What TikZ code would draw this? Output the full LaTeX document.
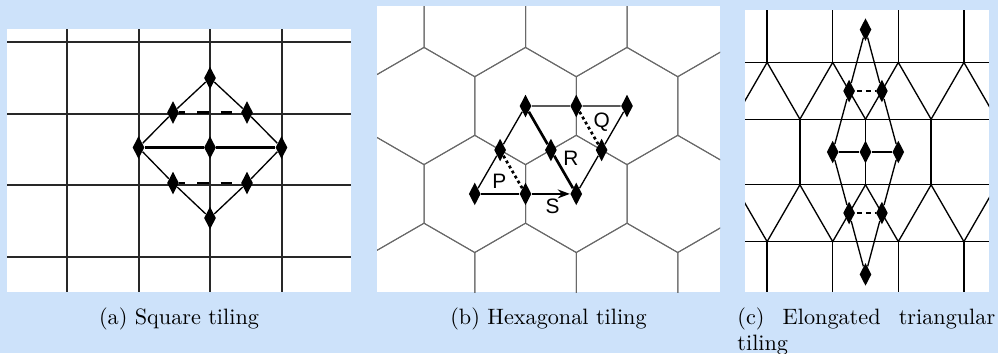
\documentclass[tikz,border=0pt]{standalone}
\usepackage{fontspec}
\usepackage{tikz}
\usetikzlibrary{shapes.geometric, arrows.meta}
\newfontfamily\labelfont{Liberation Sans}
\definecolor{bgblue}{RGB}{205, 226, 250}
\definecolor{gridgray}{RGB}{40, 40, 40}
\definecolor{hexgray}{RGB}{105, 105, 105}
\tikzset{
    panel/.style={fill=white},
    sqtile/.style={draw=gridgray, line width=0.9pt},
    hextile/.style={draw=hexgray, line width=0.45pt},
    tritile/.style={draw=black, line width=0.6pt},
    marker/.style={diamond, fill=black, inner sep=0pt, minimum width=5.4pt, minimum height=10.3pt},
    edge/.style={draw=black, line width=0.6pt},
    boldedge/.style={draw=black, line width=1.2pt},
    dashedge/.style={boldedge, dash pattern=on 5pt off 5.4pt, dash phase=2.3pt},
    shortdash/.style={boldedge, dash pattern=on 2.2pt off 1.8pt, dash phase=-0.6pt},
    dotedge/.style={boldedge, dash pattern=on 1.3pt off 1.3pt},
    letter/.style={font=\labelfont\fontsize{9.4}{11}\selectfont, inner sep=0pt},
    subcap/.style={inner sep=0pt, font={\normalsize\tolerance=10000\hyphenpenalty=10000}}
}

\begin{document}
\begin{tikzpicture}[x=0.45pt, y=-0.45pt]

% Background
\useasboundingbox (0,0) rectangle (998,353);
\fill[bgblue] (0,0) rectangle (998,353);

% (a) square tiling
\fill[panel] (7,29) rectangle (351,292);
\begin{scope}
    \clip (7,29) rectangle (351,292);
    \foreach \gx in {67,138.5,210,281.5} \draw[sqtile] (\gx,29) -- (\gx,292);
    \foreach \gy in {42,113.5,185,256.5} \draw[sqtile] (7,\gy) -- (351,\gy);
\end{scope}

\node[marker] (sqtop) at (210,78) {};
\node[marker] (squl) at (173,112.5) {};
\node[marker] (squr) at (247,112.5) {};
\node[marker] (sqml) at (138.5,147.5) {};
\node[marker] (sqc) at (210,147.5) {};
\node[marker] (sqmr) at (281.5,147.5) {};
\node[marker] (sqll) at (173,183) {};
\node[marker] (sqlr) at (247,183) {};
\node[marker] (sqbot) at (210,218) {};

\draw[edge] (sqtop) -- (squl) -- (sqml) -- (sqll) -- (sqbot) -- (sqlr) -- (sqmr) -- (squr) -- (sqtop);
\draw[boldedge] (sqml) -- (sqc) -- (sqmr);
\draw[dashedge] (squl) -- (squr);
\draw[dashedge] (sqll) -- (sqlr);

% (b) hexagonal tiling
\fill[panel] (377,6) rectangle (720,292);
\begin{scope}
    \clip (377,6) rectangle (720,292);
    \foreach \j in {0,...,3}
        \foreach \k in {-1,...,3} {
            \pgfmathsetmacro\cx{424+101.5*\k+50.75*mod(\j+1,2)}
            \pgfmathsetmacro\cy{18.1+87.9*\j}
            \draw[hextile] (\cx,\cy) ++(30:58.6) -- ++(150:58.6) -- ++(210:58.6)
                -- ++(270:58.6) -- ++(330:58.6) -- ++(30:58.6) -- cycle;
        }
\end{scope}

\node[marker] (hxa) at (474.75,193.9) {};
\node[marker] (hxb) at (525.5,106) {};
\node[marker] (hxc) at (627,106) {};
\node[marker] (hxd) at (576.25,193.9) {};
\node[marker] (hxab) at (500.1,150) {};
\node[marker] (hxbc) at (576.25,106) {};
\node[marker] (hxbd) at (550.9,150) {};
\node[marker] (hxcd) at (601.6,150) {};
\node[marker] (hxad) at (525.5,193.9) {};

\draw[edge] (hxa) -- (hxab) -- (hxb) -- (hxbc) -- (hxc) -- (hxcd) -- (hxd);
\draw[boldedge] (hxb) -- (hxbd) -- (hxd);
\draw[boldedge, -{Stealth[length=5.4pt, width=4pt]}] (hxa) -- (hxad) -- (hxd);
\draw[dotedge] (hxab) -- (hxad);
\draw[dotedge] (hxbc) -- (hxcd);

\node[letter] (lblp) at (499.3,181.7) {P};
\node[letter] (lblq) at (601.7,121.7) {Q};
\node[letter] (lblr) at (571,158.3) {R};
\node[letter] (lbls) at (552.7,206.7) {S};

% (c) elongated triangular tiling
\fill[panel] (745,10) rectangle (989,292);
\begin{scope}
    \clip (745,10) rectangle (989,292);
    \foreach \ty in {62.4,119.2,184.8,241.6} \draw[tritile] (745,\ty) -- (989,\ty);
    \foreach \tx in {767.1,832.7,898.3,963.9} {
        \draw[tritile] (\tx,10) -- (\tx,62.4);
        \draw[tritile] (\tx,241.6) -- (\tx,292);
    }
    \foreach \tx in {799.9,865.5,931.1} \draw[tritile] (\tx,119.2) -- (\tx,184.8);
    \foreach \tx in {734.3,799.9,865.5,931.1} {
        \draw[tritile] (\tx,119.2) -- ++(32.8,-56.8) -- ++(32.8,56.8);
        \draw[tritile] (\tx,184.8) -- ++(32.8,56.8) -- ++(32.8,-56.8);
    }
\end{scope}

\node[marker] (trtop) at (865.5,29.6) {};
\node[marker] (trul) at (849.1,91) {};
\node[marker] (trur) at (881.9,91) {};
\node[marker] (trml) at (832.7,152) {};
\node[marker] (trc) at (865.5,152) {};
\node[marker] (trmr) at (898.3,152) {};
\node[marker] (trll) at (849.1,213) {};
\node[marker] (trlr) at (881.9,213) {};
\node[marker] (trbot) at (865.5,274.4) {};

\draw[edge] (trtop) -- (trul) -- (trml) -- (trll) -- (trbot) -- (trlr) -- (trmr) -- (trur) -- (trtop);
\draw[boldedge] (trml) -- (trc) -- (trmr);
\draw[shortdash] (trul) -- (trur);
\draw[shortdash] (trll) -- (trlr);

% Captions
\node[subcap, anchor=base] (capa) at (179,324) {(a) Square tiling};
\node[subcap, anchor=base] (capb) at (548.5,324) {(b) Hexagonal tiling};
\node[subcap, anchor=north west, text width=116pt, align=justify] (capc) at (737,307) {(c) Elongated triangular tiling};

\end{tikzpicture}
\end{document}
